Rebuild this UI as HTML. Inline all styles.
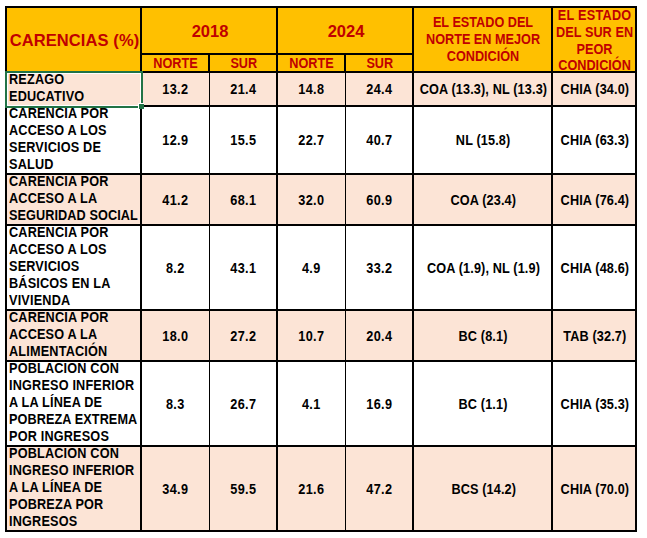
<!DOCTYPE html>
<html><head><meta charset="utf-8"><title>Carencias</title>
<style>
html,body{margin:0;padding:0;background:#fff;}
body{width:647px;height:538px;position:relative;overflow:hidden;font-family:"Liberation Sans",Arial,sans-serif;font-weight:bold;color:#000;}
.f{position:absolute;}
.k{position:absolute;background:#000;}
.c{position:absolute;display:flex;overflow:hidden;font-size:14px;line-height:16.9px;white-space:nowrap;box-sizing:border-box;}
.s{display:inline-block;transform:scaleX(0.905);}
.lab{align-items:flex-end;justify-content:flex-start;}
.lab .s{transform-origin:0 50%;letter-spacing:0.2px;}
.num{align-items:center;justify-content:center;text-align:center;}
.h{color:#C00000;}
.hc{align-items:center;justify-content:center;text-align:center;}
</style></head><body>

<div class="f" style="left:7px;top:8px;width:628px;height:63px;background:#FFC000"></div>
<div class="f" style="left:7px;top:73px;width:628px;height:32px;background:#FCE4D6"></div>
<div class="f" style="left:7px;top:175px;width:628px;height:49px;background:#FCE4D6"></div>
<div class="f" style="left:7px;top:311px;width:628px;height:49px;background:#FCE4D6"></div>
<div class="f" style="left:7px;top:447px;width:628px;height:83px;background:#FCE4D6"></div>
<div class="c h hc" style="left:7px;top:8px;width:133px;height:63px;font-size:16.5px;padding-top:2px;padding-left:2px"><span style="letter-spacing:0.1px">CARENCIAS (%)</span></div>
<div class="c h hc" style="left:142px;top:8px;width:134px;height:45px;font-size:16.5px;padding-top:2px;padding-left:2px">2018</div>
<div class="c h hc" style="left:278px;top:8px;width:134px;height:45px;font-size:16.5px;padding-top:2px;padding-left:2px">2024</div>
<div class="c h hc" style="left:142px;top:55px;width:67px;height:16px"><span class="s">NORTE</span></div>
<div class="c h hc" style="left:211px;top:55px;width:66px;height:16px"><span class="s">SUR</span></div>
<div class="c h hc" style="left:278px;top:55px;width:67px;height:16px"><span class="s">NORTE</span></div>
<div class="c h hc" style="left:347px;top:55px;width:66px;height:16px"><span class="s">SUR</span></div>
<div class="c h hc" style="left:414px;top:8px;width:137px;height:63px;padding-left:2px"><span class="s">EL ESTADO DEL<br>NORTE EN MEJOR<br>CONDICIÓN</span></div>
<div class="c h hc" style="left:553px;top:8px;width:82px;height:63px;padding-left:2px;padding-top:2px"><span class="s"><span style="letter-spacing:0.3px">EL ESTADO</span><br><span style="word-spacing:0.3px">DEL SUR EN</span><br>PEOR<br>CONDICIÓN</span></div>
<div class="c lab" style="left:7px;top:73px;width:133px;height:32px;padding-left:2px;padding-bottom:0px"><span class="s">REZAGO<br>EDUCATIVO</span></div>
<div class="c num" style="left:142px;top:73px;width:67px;height:32px"><span class="s" style="letter-spacing:0.35px">13.2</span></div>
<div class="c num" style="left:210px;top:73px;width:66px;height:32px"><span class="s" style="letter-spacing:0.35px">21.4</span></div>
<div class="c num" style="left:278px;top:73px;width:67px;height:32px"><span class="s" style="letter-spacing:0.35px">14.8</span></div>
<div class="c num" style="left:346px;top:73px;width:66px;height:32px"><span class="s" style="letter-spacing:0.35px">24.4</span></div>
<div class="c num" style="left:415px;top:73px;width:137px;height:32px"><span class="s" style="letter-spacing:0.15px">COA (13.3), NL (13.3)</span></div>
<div class="c num" style="left:554px;top:73px;width:82px;height:32px"><span class="s" style="letter-spacing:0.15px">CHIA (34.0)</span></div>
<div class="c lab" style="left:7px;top:107px;width:133px;height:66px;padding-left:2px;padding-bottom:0px"><span class="s">CARENCIA POR<br>ACCESO A LOS<br>SERVICIOS DE<br>SALUD</span></div>
<div class="c num" style="left:142px;top:107px;width:67px;height:66px"><span class="s" style="letter-spacing:0.35px">12.9</span></div>
<div class="c num" style="left:210px;top:107px;width:66px;height:66px"><span class="s" style="letter-spacing:0.35px">15.5</span></div>
<div class="c num" style="left:278px;top:107px;width:67px;height:66px"><span class="s" style="letter-spacing:0.35px">22.7</span></div>
<div class="c num" style="left:346px;top:107px;width:66px;height:66px"><span class="s" style="letter-spacing:0.35px">40.7</span></div>
<div class="c num" style="left:415px;top:107px;width:137px;height:66px"><span class="s" style="letter-spacing:0.15px">NL (15.8)</span></div>
<div class="c num" style="left:554px;top:107px;width:82px;height:66px"><span class="s" style="letter-spacing:0.15px">CHIA (63.3)</span></div>
<div class="c lab" style="left:7px;top:175px;width:133px;height:49px;padding-left:2px;padding-bottom:0px"><span class="s">CARENCIA POR<br>ACCESO A LA<br><span style="letter-spacing:0.1px">SEGURIDAD SOCIAL</span></span></div>
<div class="c num" style="left:142px;top:176px;width:67px;height:49px"><span class="s" style="letter-spacing:0.35px">41.2</span></div>
<div class="c num" style="left:210px;top:176px;width:66px;height:49px"><span class="s" style="letter-spacing:0.35px">68.1</span></div>
<div class="c num" style="left:278px;top:176px;width:67px;height:49px"><span class="s" style="letter-spacing:0.35px">32.0</span></div>
<div class="c num" style="left:346px;top:176px;width:66px;height:49px"><span class="s" style="letter-spacing:0.35px">60.9</span></div>
<div class="c num" style="left:415px;top:176px;width:137px;height:49px"><span class="s" style="letter-spacing:0.15px">COA (23.4)</span></div>
<div class="c num" style="left:554px;top:176px;width:82px;height:49px"><span class="s" style="letter-spacing:0.15px">CHIA (76.4)</span></div>
<div class="c lab" style="left:7px;top:226px;width:133px;height:83px;padding-left:2px;padding-bottom:0px"><span class="s">CARENCIA POR<br>ACCESO A LOS<br>SERVICIOS<br>BÁSICOS EN LA<br>VIVIENDA</span></div>
<div class="c num" style="left:142px;top:227px;width:67px;height:83px"><span class="s" style="letter-spacing:0.35px">8.2</span></div>
<div class="c num" style="left:210px;top:227px;width:66px;height:83px"><span class="s" style="letter-spacing:0.35px">43.1</span></div>
<div class="c num" style="left:278px;top:227px;width:67px;height:83px"><span class="s" style="letter-spacing:0.35px">4.9</span></div>
<div class="c num" style="left:346px;top:227px;width:66px;height:83px"><span class="s" style="letter-spacing:0.35px">33.2</span></div>
<div class="c num" style="left:415px;top:227px;width:137px;height:83px"><span class="s" style="letter-spacing:0.15px">COA (1.9), NL (1.9)</span></div>
<div class="c num" style="left:554px;top:227px;width:82px;height:83px"><span class="s" style="letter-spacing:0.15px">CHIA (48.6)</span></div>
<div class="c lab" style="left:7px;top:311px;width:133px;height:49px;padding-left:2px;padding-bottom:0px"><span class="s">CARENCIA POR<br>ACCESO A LA<br>ALIMENTACIÓN</span></div>
<div class="c num" style="left:142px;top:312px;width:67px;height:49px"><span class="s" style="letter-spacing:0.35px">18.0</span></div>
<div class="c num" style="left:210px;top:312px;width:66px;height:49px"><span class="s" style="letter-spacing:0.35px">27.2</span></div>
<div class="c num" style="left:278px;top:312px;width:67px;height:49px"><span class="s" style="letter-spacing:0.35px">10.7</span></div>
<div class="c num" style="left:346px;top:312px;width:66px;height:49px"><span class="s" style="letter-spacing:0.35px">20.4</span></div>
<div class="c num" style="left:415px;top:312px;width:137px;height:49px"><span class="s" style="letter-spacing:0.15px">BC (8.1)</span></div>
<div class="c num" style="left:554px;top:312px;width:82px;height:49px"><span class="s" style="letter-spacing:0.15px">TAB (32.7)</span></div>
<div class="c lab" style="left:7px;top:362px;width:133px;height:83px;padding-left:2px;padding-bottom:0px"><span class="s">POBLACIÓN CON<br>INGRESO INFERIOR<br>A LA LÍNEA DE<br><span style="letter-spacing:0.1px">POBREZA EXTREMA</span><br>POR INGRESOS</span></div>
<div class="c num" style="left:142px;top:363px;width:67px;height:83px"><span class="s" style="letter-spacing:0.35px">8.3</span></div>
<div class="c num" style="left:210px;top:363px;width:66px;height:83px"><span class="s" style="letter-spacing:0.35px">26.7</span></div>
<div class="c num" style="left:278px;top:363px;width:67px;height:83px"><span class="s" style="letter-spacing:0.35px">4.1</span></div>
<div class="c num" style="left:346px;top:363px;width:66px;height:83px"><span class="s" style="letter-spacing:0.35px">16.9</span></div>
<div class="c num" style="left:415px;top:363px;width:137px;height:83px"><span class="s" style="letter-spacing:0.15px">BC (1.1)</span></div>
<div class="c num" style="left:554px;top:363px;width:82px;height:83px"><span class="s" style="letter-spacing:0.15px">CHIA (35.3)</span></div>
<div class="c lab" style="left:7px;top:447px;width:133px;height:83px;padding-left:2px;padding-bottom:0px"><span class="s">POBLACIÓN CON<br>INGRESO INFERIOR<br>A LA LÍNEA DE<br>POBREZA POR<br>INGRESOS</span></div>
<div class="c num" style="left:142px;top:448px;width:67px;height:83px"><span class="s" style="letter-spacing:0.35px">34.9</span></div>
<div class="c num" style="left:210px;top:448px;width:66px;height:83px"><span class="s" style="letter-spacing:0.35px">59.5</span></div>
<div class="c num" style="left:278px;top:448px;width:67px;height:83px"><span class="s" style="letter-spacing:0.35px">21.6</span></div>
<div class="c num" style="left:346px;top:448px;width:66px;height:83px"><span class="s" style="letter-spacing:0.35px">47.2</span></div>
<div class="c num" style="left:415px;top:448px;width:137px;height:83px"><span class="s" style="letter-spacing:0.15px">BCS (14.2)</span></div>
<div class="c num" style="left:554px;top:448px;width:82px;height:83px"><span class="s" style="letter-spacing:0.15px">CHIA (70.0)</span></div>
<div class="k" style="left:5px;top:6px;width:632px;height:2px"></div>
<div class="k" style="left:5px;top:71px;width:632px;height:2px"></div>
<div class="k" style="left:5px;top:105px;width:632px;height:2px"></div>
<div class="k" style="left:5px;top:173px;width:632px;height:2px"></div>
<div class="k" style="left:5px;top:224px;width:632px;height:2px"></div>
<div class="k" style="left:5px;top:309px;width:632px;height:2px"></div>
<div class="k" style="left:5px;top:360px;width:632px;height:2px"></div>
<div class="k" style="left:5px;top:445px;width:632px;height:2px"></div>
<div class="k" style="left:5px;top:530px;width:632px;height:2px"></div>
<div class="k" style="left:140px;top:53px;width:274px;height:2px"></div>
<div class="k" style="left:5px;top:6px;width:2px;height:526px"></div>
<div class="k" style="left:140px;top:6px;width:2px;height:526px"></div>
<div class="k" style="left:276px;top:6px;width:2px;height:526px"></div>
<div class="k" style="left:412px;top:6px;width:2px;height:526px"></div>
<div class="k" style="left:551px;top:6px;width:2px;height:526px"></div>
<div class="k" style="left:635px;top:6px;width:2px;height:526px"></div>
<div class="k" style="left:208px;top:53px;width:2px;height:20px"></div>
<div class="k" style="left:344px;top:53px;width:2px;height:20px"></div>
<div class="k" style="left:209px;top:72px;width:1px;height:459px"></div>
<div class="k" style="left:345px;top:72px;width:1px;height:459px"></div>
<div class="f" style="left:5px;top:71px;width:134px;height:33px;border:2px solid #217346;box-sizing:content-box"></div>
<div class="f" style="left:7px;top:73px;width:132px;height:31px;border:1px solid #fff;box-sizing:content-box"></div>
<div class="f" style="left:138px;top:103px;width:5px;height:5px;background:#217346;border-top:1px solid #fff;border-left:1px solid #fff"></div>
</body></html>
